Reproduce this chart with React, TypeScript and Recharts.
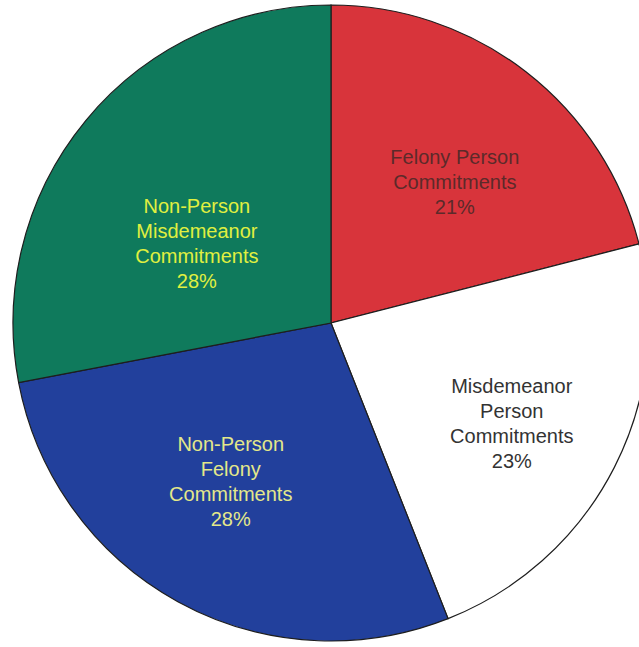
import React from "react";
import { PieChart, Pie, Cell } from "recharts";

const categories = [
  "Felony Person Commitments",
  "Misdemeanor Person Commitments",
  "Non-Person Felony Commitments",
  "Non-Person Misdemeanor Commitments",
];
const values = [21, 23, 28, 28];
const labelLines = [
  ["Felony Person", "Commitments"],
  ["Misdemeanor", "Person", "Commitments"],
  ["Non-Person", "Felony", "Commitments"],
  ["Non-Person", "Misdemeanor", "Commitments"],
];

const fills = ["#d8343b", "#ffffff", "#22409c", "#0f7a5c"];
const textColors = ["#5c2a2a", "#333333", "#e4e88a", "#e0f040"];
// label placement tweaks (radius fraction, angle shift in degrees)
const labelRadius = [0.59, 0.65, 0.59, 0.49];
const labelAngleShift = [-3.5, -2, -3.5, 9];

const data = categories.map((name, i) => ({ name, value: values[i] }));

const RAD = Math.PI / 180;
const FONT = 20;
const LH = 25;

const renderLabel = (props: any) => {
  const { cx, cy, midAngle, outerRadius, index, value } = props;
  const a = (midAngle + labelAngleShift[index]) * RAD;
  const r = outerRadius * labelRadius[index];
  const x = cx + r * Math.cos(a);
  const y = cy - r * Math.sin(a);
  const lines = [...labelLines[index], `${value}%`];
  const top = y - ((lines.length - 1) * LH) / 2;
  return (
    <text
      x={x}
      y={top}
      textAnchor="middle"
      dominantBaseline="central"
      fill={textColors[index]}
      fontFamily="'Liberation Sans', Arial, Helvetica, sans-serif"
      fontSize={FONT}
    >
      {lines.map((l, i) => (
        <tspan key={i} x={x} y={top + i * LH}>
          {l}
        </tspan>
      ))}
    </text>
  );
};

export default function App() {
  return (
    <div style={{ position: "absolute", left: 0, top: 0, width: 639, height: 647, background: "#ffffff", overflow: "hidden" }}>
      <PieChart width={639} height={647} margin={{ top: 0, right: 0, bottom: 0, left: 0 }}>
        <Pie
          data={data}
          dataKey="value"
          nameKey="name"
          cx={331}
          cy={323}
          outerRadius={318}
          startAngle={90}
          endAngle={-270}
          stroke="#1e1e1e"
          strokeWidth={1.2}
          labelLine={false}
          label={renderLabel}
          isAnimationActive={false}
        >
          {data.map((d, i) => (
            <Cell key={d.name} fill={fills[i]} />
          ))}
        </Pie>
      </PieChart>
    </div>
  );
}
